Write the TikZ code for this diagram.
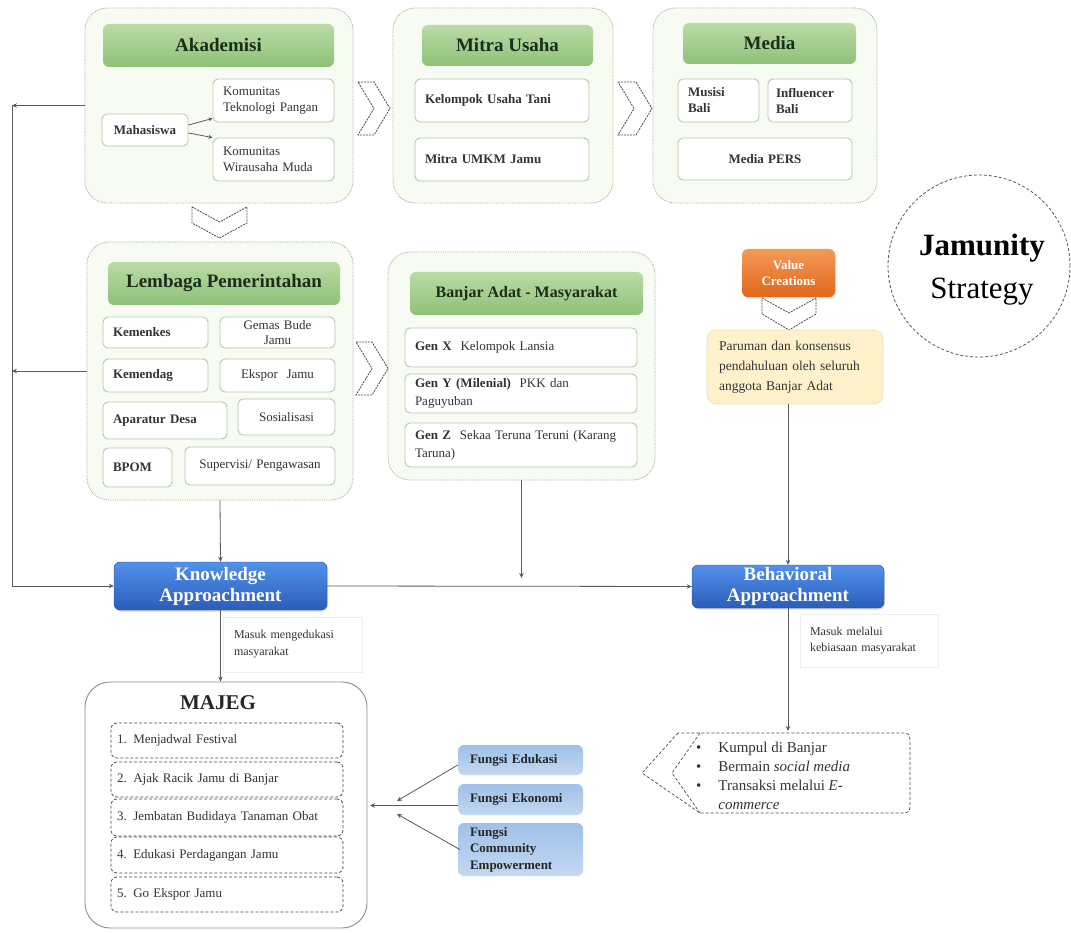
\documentclass[tikz,border=0pt]{standalone}
\usepackage{fontspec}
\setmainfont{Liberation Serif}
\usetikzlibrary{arrows.meta,shadows}
\definecolor{outerfill}{HTML}{F7FBF3}
\definecolor{outerline}{HTML}{9DAD93}
\definecolor{ttop}{HTML}{BADBA6}
\definecolor{tbot}{HTML}{8FC177}
\definecolor{innerline}{HTML}{B7C9AB}
\definecolor{ttext}{HTML}{1C2E1A}
\definecolor{btop}{HTML}{5291EA}
\definecolor{bbot}{HTML}{2B5DBA}
\definecolor{ftop}{HTML}{9FC1E8}
\definecolor{fbot}{HTML}{C3D8F0}
\definecolor{otop}{HTML}{F39A58}
\definecolor{obot}{HTML}{E0661C}
\definecolor{yfill}{HTML}{FFF1CB}
\definecolor{yline}{HTML}{F2DFA8}
\definecolor{conncol}{HTML}{5A5A5A}
\definecolor{chevcol}{HTML}{4A4A4A}
\newcommand\mybox[8]{%
  \pgfmathsetmacro\mytw{#5-20}%
  \node[#1, minimum width=#5pt, minimum height=#6pt, text width=\mytw pt, #7] (#2) at (#3,#4) {#8};}
\tikzset{
  outerbox/.style={draw=outerline, densely dotted, fill=outerfill, rounded corners=22pt, line width=0.8pt},
  titlebox/.style={rounded corners=6pt, top color=ttop, bottom color=tbot, text=ttext, inner sep=0pt,
    font=\fontsize{19}{22}\selectfont\bfseries},
  innerbox/.style={draw=innerline, fill=white, rounded corners=5pt, line width=0.9pt,
    font=\fontsize{13}{16}\selectfont, text=black!80, inner sep=0pt},
  bluebox/.style={rounded corners=6pt, top color=btop, bottom color=bbot, draw=bbot!80!black, line width=0.4pt,
    text=white, align=center, inner sep=0pt, font=\fontsize{19}{21}\selectfont\bfseries,
    drop shadow={shadow xshift=1pt, shadow yshift=-1.5pt, opacity=0.3}},
  valuebox/.style={rounded corners=6pt, top color=otop, bottom color=obot, text=white, align=center,
    inner sep=0pt, font=\fontsize{13}{16}\selectfont\bfseries,
    drop shadow={shadow xshift=1pt, shadow yshift=-1.5pt, opacity=0.3}},
  yellowbox/.style={rounded corners=9pt, fill=yfill, draw=yline, line width=0.6pt, inner sep=0pt,
    font=\fontsize{13.5}{20}\selectfont, text=black!80},
  lblbox/.style={draw=black!7, fill=white, inner sep=0pt, font=\fontsize{12}{17}\selectfont, text=black!80},
  majegbox/.style={draw=black!45, fill=white, rounded corners=25pt, line width=0.9pt},
  itembox/.style={draw=black!70, densely dashed, fill=white, rounded corners=6pt, line width=0.8pt,
    inner sep=0pt, font=\fontsize{13}{16}\selectfont, text=black!80},
  fungsibox/.style={rounded corners=6pt, top color=ftop, bottom color=fbot, inner sep=0pt,
    font=\fontsize{13}{16.5}\selectfont\bfseries, text=black!85},
  chev/.style={draw=chevcol, dash pattern=on 2pt off 1pt, fill=white, line width=0.8pt},
  conn/.style={draw=conncol, line width=0.8pt, -{Stealth[length=5pt,width=4.5pt]}},
}
\begin{document}
\begin{tikzpicture}[x=1pt,y=-1pt]
\useasboundingbox (0,0) rectangle (1071,933);
\fill[white] (0,0) rectangle (1071,933);

% ---------- outer boxes ----------
\node[outerbox, minimum width=268pt, minimum height=195pt] (akad) at (219,105.5) {};
\node[outerbox, minimum width=220pt, minimum height=195pt] (mitra) at (503,105.5) {};
\node[outerbox, minimum width=224pt, minimum height=195pt] (media) at (765,105.5) {};
\node[outerbox, minimum width=266pt, minimum height=258pt] (lemb) at (220,371) {};
\node[outerbox, minimum width=267pt, minimum height=228pt] (banjar) at (521.5,366) {};

% ---------- titles ----------
\node[titlebox, minimum width=231pt, minimum height=43pt] (takad) at (218.5,45.5) {Akademisi};
\node[titlebox, minimum width=171pt, minimum height=41pt] (tmitra) at (507.5,45.5) {Mitra Usaha};
\node[titlebox, minimum width=173pt, minimum height=41pt] (tmedia) at (769.5,43.5) {Media};
\node[titlebox, minimum width=232pt, minimum height=43pt] (tlemb) at (224,283.5) {Lembaga Pemerintahan};
\node[titlebox, minimum width=233pt, minimum height=43pt, font=\fontsize{16}{19}\selectfont\bfseries] (tbanjar) at (526.5,293.5) {Banjar Adat - Masyarakat};

% ---------- Akademisi ----------
\mybox{innerbox}{kom1}{273.5}{100.5}{121}{43}{align=left}{Komunitas\\Teknologi Pangan}
\mybox{innerbox}{kom2}{273.5}{159.5}{121}{43}{align=left}{Komunitas\\Wirausaha Muda}
\mybox{innerbox}{mhs}{145}{130}{86}{32}{align=center}{\textbf{Mahasiswa}}

% ---------- Mitra Usaha ----------
\mybox{innerbox}{kut}{502}{100.5}{174}{43}{align=left}{\textbf{Kelompok Usaha Tani}}
\mybox{innerbox}{umkm}{502}{159.5}{174}{43}{align=left}{\textbf{Mitra UMKM Jamu}}

% ---------- Media ----------
\mybox{innerbox}{musisi}{718.5}{100.5}{81}{43}{align=left}{\textbf{Musisi}\\\textbf{Bali}}
\mybox{innerbox}{infl}{810}{100.5}{84}{43}{align=left, text width=68pt}{\textbf{Influencer}\\\textbf{Bali}}
\mybox{innerbox}{pers}{765}{159}{174}{42}{align=center}{\textbf{Media PERS}}

% ---------- Lembaga ----------
\mybox{innerbox}{kemenkes}{155.5}{332.5}{105}{31}{align=left}{\textbf{Kemenkes}}
\mybox{innerbox}{gemas}{277.5}{332.5}{115}{31}{align=center, font=\fontsize{13}{15}\selectfont}{Gemas Bude\\Jamu}
\mybox{innerbox}{kemendag}{155.5}{375.5}{105}{33}{align=left}{\textbf{Kemendag}}
\mybox{innerbox}{ekspor}{277.5}{375.5}{115}{33}{align=center}{Ekspor\ \ Jamu}
\mybox{innerbox}{aparat}{165}{420.5}{124}{37}{align=left}{\textbf{Aparatur Desa}}
\mybox{innerbox}{sosial}{286.5}{417}{97}{36}{align=center}{Sosialisasi}
\mybox{innerbox}{bpom}{137.5}{467.5}{69}{39}{align=left}{\textbf{BPOM}}
\mybox{innerbox}{superv}{260}{466}{150}{38}{align=center}{Supervisi/ Pengawasan}

% ---------- Banjar ----------
\mybox{innerbox}{genx}{521}{347.5}{232}{39}{align=left}{\textbf{Gen X}\ \ Kelompok Lansia}
\mybox{innerbox}{geny}{521}{393.5}{232}{39}{align=left, font=\fontsize{13}{18}\selectfont}{\textbf{Gen Y (Milenial)}\ \ PKK dan\\Paguyuban}
\mybox{innerbox}{genz}{521}{445}{232}{44}{align=left, font=\fontsize{13}{18}\selectfont}{\textbf{Gen Z}\ \ Sekaa Teruna Teruni (Karang\\Taruna)}

% ---------- chevrons ----------
\draw[chev] (358,82) -- (374,82) -- (390,108.5) -- (374,135) -- (358,135) -- (374,108.5) -- cycle;
\draw[chev] (618,82) -- (636,82) -- (652,108.5) -- (636,135) -- (618,135) -- (634,108.5) -- cycle;
\draw[chev] (356,342) -- (372,342) -- (388,368.5) -- (372,395) -- (356,395) -- (372,368.5) -- cycle;
\draw[chev] (192,207) -- (219.5,222) -- (247,207) -- (247,223) -- (219.5,238) -- (192,223) -- cycle;

% ---------- value creations ----------
\node[valuebox, minimum width=93pt, minimum height=48pt] (value) at (788.5,273) {Value\\Creations};
\draw[chev] (762,298) -- (789,313) -- (816,298) -- (816,314) -- (789,330) -- (762,314) -- cycle;
\mybox{yellowbox}{paruman}{795}{367}{176}{74}{align=left, text width=152pt}{Paruman dan konsensus\\pendahuluan oleh seluruh\\anggota Banjar Adat}

% ---------- Jamunity ----------
\node[draw=black!65, densely dashed, circle, minimum size=182pt, line width=0.8pt] (jam) at (979,266) {};
\node[font=\fontsize{31}{34}\selectfont\bfseries] (jam1) at (982,248) {Jamunity};
\node[font=\fontsize{31}{34}\selectfont] (jam2) at (982,292) {Strategy};

% ---------- approach boxes ----------
\node[bluebox, minimum width=213pt, minimum height=48pt] (know) at (220.5,586) {Knowledge\\Approachment};
\node[bluebox, minimum width=192pt, minimum height=43pt] (behav) at (788,586.5) {Behavioral\\Approachment};

% ---------- MAJEG ----------
\node[majegbox, minimum width=282pt, minimum height=246pt] (majeg) at (226,805) {};
\node[font=\fontsize{21}{24}\selectfont\bfseries, text=black!85] (majegt) at (218,703) {MAJEG};
\mybox{itembox}{it1}{227}{740.5}{232}{35}{align=left, text width=220pt}{1. Menjadwal Festival}
\mybox{itembox}{it2}{227}{779.5}{232}{35}{align=left, text width=220pt}{2. Ajak Racik Jamu di Banjar}
\mybox{itembox}{it3}{227}{817.5}{232}{37}{align=left, text width=220pt}{3. Jembatan Budidaya Tanaman Obat}
\mybox{itembox}{it4}{227}{855}{232}{36}{align=left, text width=220pt}{4. Edukasi Perdagangan Jamu}
\mybox{itembox}{it5}{227}{894.5}{232}{35}{align=left, text width=220pt}{5. Go Ekspor Jamu}

% ---------- Fungsi ----------
\mybox{fungsibox}{eduk}{520.5}{760}{125}{30}{align=left, text width=101pt}{Fungsi Edukasi}
\mybox{fungsibox}{ekon}{520.5}{799.5}{125}{31}{align=left, text width=101pt}{Fungsi Ekonomi}
\mybox{fungsibox}{comm}{520.5}{849.5}{125}{53}{align=left, text width=101pt}{Fungsi\\Community\\Empowerment}

% ---------- behaviour list ----------
\draw[draw=black!70, densely dashed, line width=0.7pt, fill=white]
  (678,733) -- (642,773) -- (700,813) -- (898,813) .. controls (910,813) .. (910,801)
  -- (910,745) .. controls (910,733) .. (898,733) -- cycle;
\draw[draw=black!70, densely dashed, line width=0.7pt] (700,733) -- (672,773) -- (700,813);
\node[anchor=base west, inner sep=0pt, font=\fontsize{15}{19.3}\selectfont, text=black!80] (bul) at (696,752)
  {\begin{tabular}[t]{@{}l@{\hspace{17pt}}l@{}}\textbullet & Kumpul di Banjar\\
   \textbullet & Bermain \textit{social media}\\
   \textbullet & Transaksi melalui \textit{E-}\\
   & \textit{commerce}\end{tabular}};

% ---------- labels ----------
\mybox{lblbox}{lab1}{292.5}{644.5}{139}{55}{align=left, text width=117pt}{Masuk mengedukasi\\masyarakat}
\mybox{lblbox}{lab2}{869}{640.5}{138}{53}{align=left, text width=118pt, font=\fontsize{12}{15.5}\selectfont}{Masuk melalui\\kebiasaan masyarakat}

% ---------- connectors ----------
\coordinate (lpA) at (12,105.5);
\coordinate (lpB) at (12,371);
\coordinate (bjA) at (521.5,578);
\coordinate (bultop) at (788,731);
\coordinate (fa1) at (397,801);
\coordinate (fa2) at (370,805.5);
\coordinate (fa3) at (397,814);
\draw[conn] (akad.west) -- (lpA);
\draw[conn] (lemb.west) -- (lpB);
\draw[conn] (lpA) |- (know.west);
\draw[conn] (lemb.south) -- (know.north);
\draw[conn] (banjar.south) -- (bjA);
\draw[conn] (know.east) -- (behav.west);
\draw[conn] (paruman.south -| behav.north) -- (behav.north);
\draw[conn] (know.south) -- (know.south |- majeg.north);
\draw[conn] (behav.south) -- (bultop);
\draw[conn, -{Stealth[length=4pt,width=4pt]}] ([yshift=5pt]mhs.east) -- ([yshift=4pt]kom1.south west);
\draw[conn, -{Stealth[length=4pt,width=4pt]}] ([yshift=-3pt]mhs.east) -- (kom2.north west);
\draw[conn] ([yshift=-5pt]eduk.west) -- (fa1);
\draw[conn] ([yshift=-6pt]ekon.west) -- (fa2);
\draw[conn] ([xshift=2pt]comm.west) -- (fa3);
\end{tikzpicture}
\end{document}
